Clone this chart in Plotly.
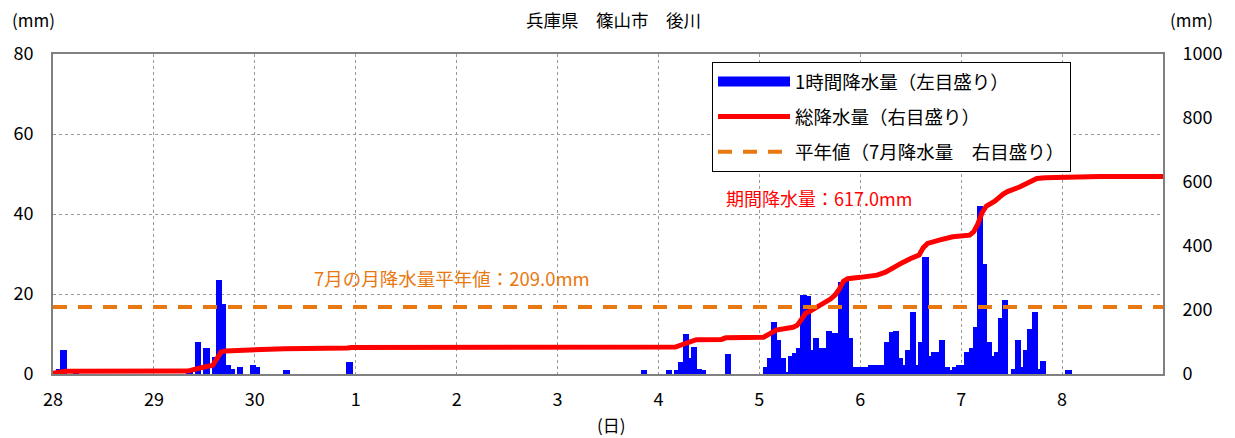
import plotly.graph_objects as go

# hours counted from 6/28 00:00
RAIN_HOURS = [1, 2, 5, 32, 34, 36, 38, 39, 40, 41, 42, 44, 47, 48, 55, 70,
              140, 146, 148, 149, 150, 151, 152, 153, 154, 160,
              169, 170, 171, 172, 173, 174, 175, 176, 177, 178, 179, 180,
              181, 182, 183, 184, 185, 186, 187, 188, 189,
              190, 191, 192, 193, 194, 195, 196, 197, 198, 199, 200,
              201, 202, 203, 204, 205, 206, 207, 208, 209, 210,
              211, 212, 213, 214, 215, 216, 217, 218, 219, 220,
              221, 222, 223, 224, 225, 226, 228, 229, 230,
              231, 232, 233, 234, 235, 241]
RAIN_MM = [1.2, 6.0, 0.5, 0.5, 8.1, 6.4, 4.3, 23.5, 17.5, 2.2, 1.2, 1.8, 2.3, 1.8, 1.0, 2.9,
           1.0, 1.0, 1.0, 3.1, 10.0, 4.0, 6.8, 1.2, 1.0, 5.0,
           1.8, 3.9, 12.9, 8.5, 3.9, 0.5, 4.5, 5.2, 6.4, 19.8, 19.5, 6.0,
           9.1, 6.4, 6.4, 10.8, 10.2, 10.2, 23.1, 23.5, 9.1,
           1.8, 1.8, 1.8, 1.8, 2.3, 2.3, 2.3, 2.3, 7.9, 10.6, 10.8,
           3.9, 2.2, 6.0, 15.4, 2.3, 7.9, 29.3, 4.6, 5.4, 5.4,
           8.5, 1.8, 1.0, 1.8, 2.3, 2.3, 5.4, 6.4, 11.8, 42.0,
           27.4, 7.9, 4.6, 5.4, 13.9, 18.5, 1.2, 8.5, 1.8,
           6.0, 11.2, 15.4, 1.2, 3.3, 1.0]

# total rainfall
TOTAL_HOURS = [0, 2, 3, 32, 34, 36, 38, 39, 40, 41, 44, 48, 55, 70, 71,
               148, 149, 150, 152, 153, 159, 160, 169, 171, 172, 176, 177,
               178, 179, 180, 182, 183, 185, 186, 187, 188, 189, 192, 196,
               198, 200, 202, 204, 206, 207, 208, 211, 214, 218, 219, 220,
               221, 222, 224, 226, 227, 230, 232, 234, 236, 241, 249, 264]
TOTAL_MM = [2, 7, 8.5, 9, 17, 22, 27, 50, 69, 72, 74, 78, 79, 81, 83,
            84, 88, 96, 104, 107, 108, 113, 115, 128, 137, 146, 152,
            170, 190, 196, 210, 221, 235, 247, 265, 290, 298, 302, 309,
            318, 335, 348, 361, 372, 395, 408, 419, 429, 434, 445, 470,
            505, 525, 540, 562, 570, 585, 596, 611, 613, 615, 617, 617]

NORMAL_JULY = 209.0
PERIOD_TOTAL = 617.0
DAY_TICKS = [0, 24, 48, 72, 96, 120, 144, 168, 192, 216, 240]
DAY_LABELS = ['28', '29', '30', '1', '2', '3', '4', '5', '6', '7', '8']

FONT = 'Noto Sans CJK JP'
ORANGE = '#E8780F'
BLUE = '#0000FF'

fig = go.Figure()

fig.add_trace(go.Bar(
    x=RAIN_HOURS, y=RAIN_MM,
    width=1.5, offset=-0.25,
    marker=dict(color=BLUE, line=dict(width=0)),
    showlegend=False,
))
# legend swatch for the bars (wide rectangle like the original)
fig.add_trace(go.Scatter(
    x=[None], y=[None], mode='lines',
    line=dict(color=BLUE, width=15),
    name='1時間降水量（左目盛り）',
    legendgroup='a', legendrank=1,
))

fig.add_trace(go.Scatter(
    x=TOTAL_HOURS, y=TOTAL_MM, yaxis='y2', mode='lines',
    line=dict(color='#FF0000', width=5),
    name='総降水量（右目盛り）',
    legendgroup='b', legendrank=2,
))

fig.add_trace(go.Scatter(
    x=[DAY_TICKS[0], 264], y=[NORMAL_JULY, NORMAL_JULY], yaxis='y2', mode='lines',
    line=dict(color=ORANGE, width=4, dash='14px,11px'),
    name='平年値（7月降水量　右目盛り）',
    legendgroup='c', legendrank=3,
))

grid = dict(showgrid=True, gridcolor='#999999', griddash='dot', gridwidth=1)

# page body has an 8px margin, so the figure is sized to fit inside the window
fig.update_layout(
    width=1227, height=430,
    margin=dict(l=45, r=72, t=46, b=64, autoexpand=False),
    paper_bgcolor='white', plot_bgcolor='white',
    font=dict(family=FONT, size=18, color='black'),
    showlegend=True,
    bargap=0,
    legend=dict(
        x=0.5937, y=0.975, xanchor='left', yanchor='top',
        bgcolor='white', bordercolor='black', borderwidth=1,
        font=dict(size=18.5), tracegroupgap=8, itemwidth=72,
    ),
    xaxis=dict(
        range=[0, 264], tickvals=DAY_TICKS, ticktext=DAY_LABELS,
        showline=True, linecolor='#808080', linewidth=2, mirror=True,
        ticks='', ticklabelstandoff=8, zeroline=False, automargin=False, **grid,
    ),
    yaxis=dict(
        range=[0, 80], dtick=20,
        showline=True, linecolor='#808080', linewidth=2,
        ticks='', ticklabelstandoff=14, zeroline=False, automargin=False, **grid,
    ),
    yaxis2=dict(
        range=[0, 1000], dtick=200, overlaying='y', side='right',
        showline=True, linecolor='#808080', linewidth=2,
        ticks='', ticklabelstandoff=14, showgrid=False, zeroline=False, automargin=False,
    ),
    annotations=[
        dict(text='兵庫県　篠山市　後川', xref='paper', yref='paper', x=0.505, y=1.1078,
             xanchor='center', yanchor='middle', showarrow=False, font=dict(size=17.5)),
        dict(text='(mm)', xref='paper', yref='paper', x=-0.018, y=1.1078,
             xanchor='center', yanchor='middle', showarrow=False, font=dict(size=17)),
        dict(text='(mm)', xref='paper', yref='paper', x=1.026, y=1.1078,
             xanchor='center', yanchor='middle', showarrow=False, font=dict(size=17)),
        dict(text='(日)', xref='paper', yref='paper', x=0.503, y=-0.159,
             xanchor='center', yanchor='middle', showarrow=False, font=dict(size=17)),
        dict(text=f'期間降水量：{PERIOD_TOTAL:.1f}mm', x=182.3, y=44, xref='x', yref='y',
             showarrow=False, font=dict(size=18, color='#FF0000')),
        dict(text=f'7月の月降水量平年値：{NORMAL_JULY:.1f}mm', x=94.8, y=24, xref='x', yref='y',
             showarrow=False, font=dict(size=18.5, color=ORANGE)),
    ],
)

fig.write_html("out.html")
